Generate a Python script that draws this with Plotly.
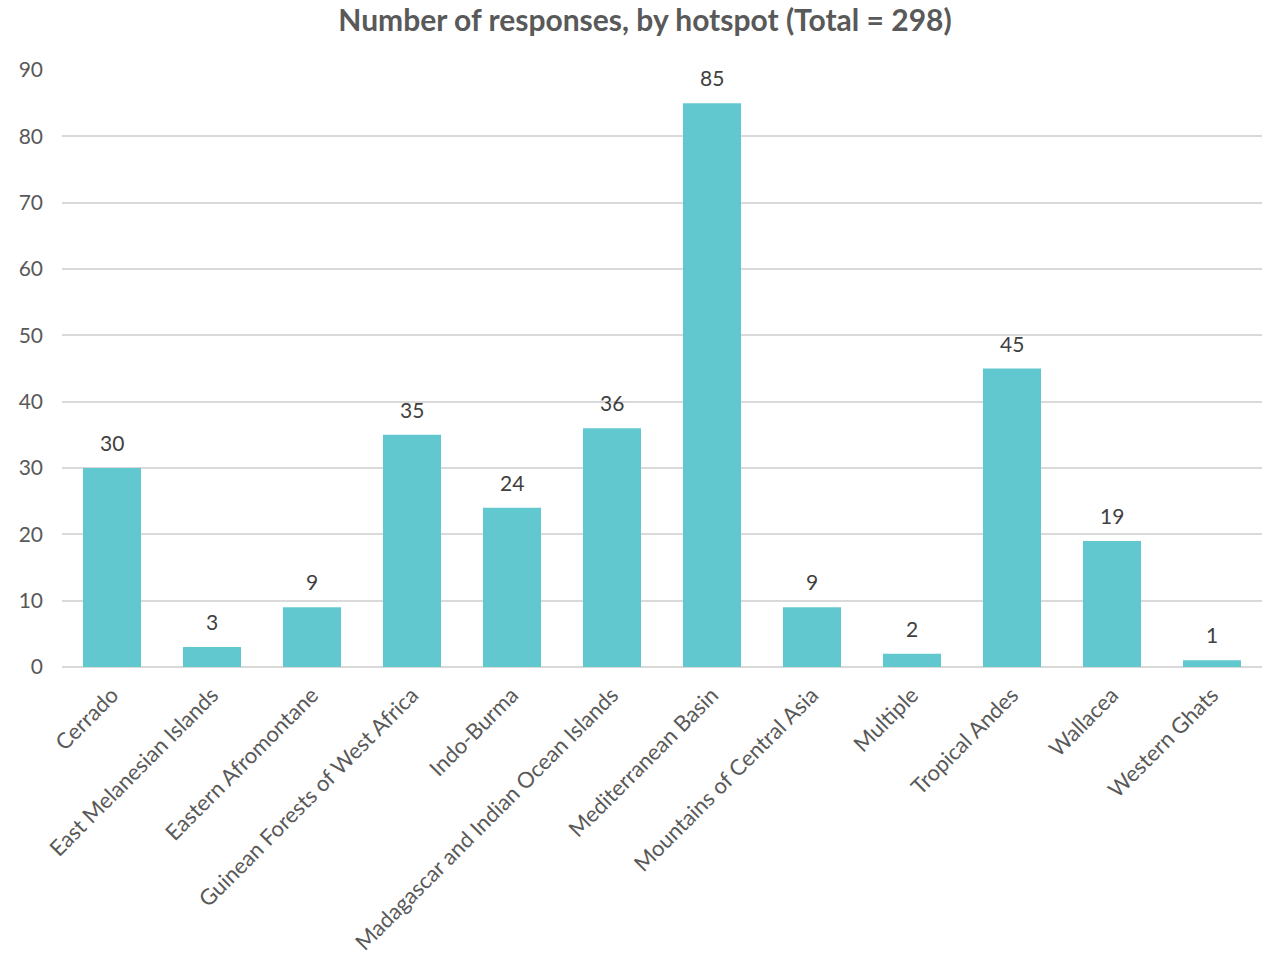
import plotly.graph_objects as go

categories = ["Cerrado", "East Melanesian Islands", "Eastern Afromontane",
              "Guinean Forests of West Africa", "Indo-Burma",
              "Madagascar and Indian Ocean Islands", "Mediterranean Basin",
              "Mountains of Central Asia", "Multiple", "Tropical Andes",
              "Wallacea", "Western Ghats"]
values = [30, 3, 9, 35, 24, 36, 85, 9, 2, 45, 19, 1]
y_ticks = [0, 10, 20, 30, 40, 50, 60, 70, 80, 90]

FONT = "Lato, 'Open Sans', sans-serif"
GRAY = "#595959"

fig = go.Figure()
fig.add_trace(go.Bar(x=categories, y=values, marker_color="#62C8CF",
                     marker_line_width=0, width=0.58))

for c, v in zip(categories, values):
    fig.add_annotation(x=c, y=v, text=str(v), showarrow=False,
                       yanchor="bottom", yshift=11,
                       font=dict(family=FONT, size=21, color="#404040"))

fig.update_layout(
    width=1271, height=957,
    margin=dict(l=62, r=9, t=70, b=290, autoexpand=False),
    plot_bgcolor="white", paper_bgcolor="white",
    title=dict(text="<b>Number of responses, by hotspot (Total = 298)</b>",
               x=0.5075, xanchor="center", y=0.979, yanchor="middle",
               font=dict(family=FONT, size=30, color=GRAY)),
    showlegend=False, bargap=0.42,
    font=dict(family=FONT, color=GRAY),
)
fig.update_xaxes(tickangle=-45, tickfont=dict(size=22, color=GRAY),
                 showgrid=False, ticks="", showline=False,
                 ticklabelstandoff=10, automargin=False)
fig.update_yaxes(range=[0, 90], tickvals=y_ticks, tickfont=dict(size=21, color=GRAY),
                 gridcolor="#D9D9D9", gridwidth=1.5, zeroline=True,
                 zerolinecolor="#D9D9D9", zerolinewidth=1.5, ticks="",
                 showline=False, ticklabelstandoff=18, automargin=False)

fig.write_html("out.html", config={"displayModeBar": False},
               post_script="document.body.style.margin='0';document.body.style.overflow='hidden';")
